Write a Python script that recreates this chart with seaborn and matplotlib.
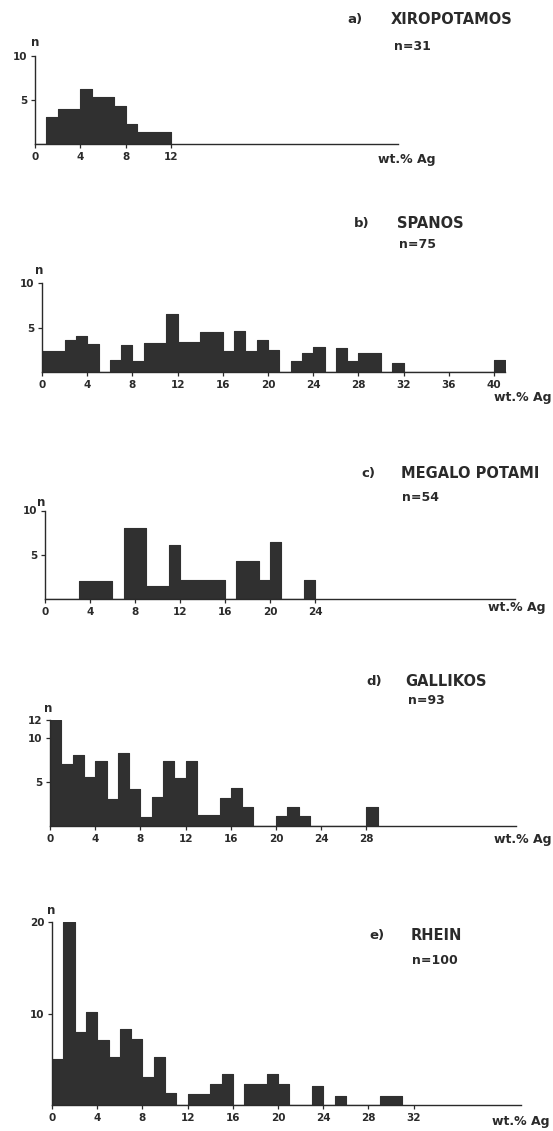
import matplotlib
matplotlib.use("Agg")
import matplotlib.pyplot as plt
import numpy as np
import pandas as pd
import seaborn as sns

# ── Dados (contagens por classe de 1 wt.% Ag, a partir de 0) ──────────────
xiropotamos = [0, 3.1, 4.0, 4.0, 6.3, 5.3, 5.3, 4.3, 2.3, 1.4, 1.4, 1.4]
spanos = [2.4, 2.4, 3.6, 4.1, 3.2, 0, 1.3, 3.1, 1.2, 3.3, 3.3, 6.5, 3.4, 3.4,
          4.5, 4.5, 2.4, 4.6, 2.4, 3.6, 2.5, 0, 1.2, 2.2, 2.8, 0, 2.7, 1.2,
          2.2, 2.2, 0, 1.0, 0, 0, 0, 0, 0, 0, 0, 0, 1.3]
megalo_potami = [0, 0, 0, 2.0, 2.0, 2.0, 0, 8.0, 8.0, 1.5, 1.5, 6.1, 2.2, 2.2,
                 2.2, 2.2, 0, 4.3, 4.3, 2.2, 6.4, 0, 0, 2.1]
gallikos = [12.0, 7.0, 8.0, 5.5, 7.3, 3.1, 8.3, 4.2, 1.0, 3.3, 7.4, 5.4, 7.4,
            1.2, 1.2, 3.2, 4.3, 2.2, 0, 0, 1.1, 2.2, 1.1, 0, 0, 0, 0, 0, 2.1]
rhein = [5.0, 20.0, 8.0, 10.2, 7.1, 5.2, 8.3, 7.2, 3.1, 5.2, 1.3, 0, 1.2, 1.2,
         2.3, 3.4, 0, 2.3, 2.3, 3.4, 2.3, 0, 0, 2.1, 0, 1.0, 0, 0, 0, 1.0, 1.0]

letras = ["a)", "b)", "c)", "d)", "e)"]
nomes = ["XIROPOTAMOS", "SPANOS", "MEGALO POTAMI", "GALLIKOS", "RHEIN"]
n_amostras = ["n=31", "n=75", "n=54", "n=93", "n=100"]
y_ticks = [[5, 10], [5, 10], [5, 10], [5, 10, 12], [10, 20]]
x_ticks = [range(0, 13, 4), range(0, 41, 4), range(0, 25, 4),
           range(0, 29, 4), range(0, 33, 4)]

W, H = 553, 1131
BAR = "#303030"
INK = "#2a2a2a"

sns.set_style("ticks")
plt.rcParams["font.family"] = ["DejaVu Sans"]
plt.rcParams["axes.edgecolor"] = INK

fig = plt.figure(figsize=(W / 100, H / 100), dpi=100)


def fx(x):
    return x / W


def fy(y):
    return 1 - y / H


# geometria em pixels: origem x, linha de base, px por unidade x/y, fim do eixo x, topo y
geom = [
    dict(x0=35, base=144, ux=11.35, uy=8.8, xmax=32.0, ymax=10),
    dict(x0=42, base=372, ux=11.3, uy=8.85, xmax=41.0, ymax=10),
    dict(x0=45, base=599, ux=11.25, uy=8.85, xmax=41.8, ymax=10),
    dict(x0=50, base=826, ux=11.3, uy=8.85, xmax=41.2, ymax=12),
    dict(x0=52, base=1105, ux=11.3, uy=9.15, xmax=41.5, ymax=20),
]
# posições dos textos (px): letra, nome, n, rótulo "n", rótulo do eixo x
textos = [
    dict(lx=347, nmx=391, ty=20, nx=394, ny=47, yl=(31, 42), xl=(436, 159)),
    dict(lx=354, nmx=397, ty=224, nx=399, ny=244, yl=(35, 271), xl=(551, 397)),
    dict(lx=361, nmx=401, ty=473, nx=402, ny=497, yl=(37, 502), xl=(546, 608)),
    dict(lx=366, nmx=405, ty=681, nx=408, ny=701, yl=(44, 708), xl=(551, 840)),
    dict(lx=369, nmx=411, ty=936, nx=412, ny=960, yl=(47, 910), xl=(550, 1121)),
]

series = [xiropotamos, spanos, megalo_potami, gallikos, rhein]

for i, counts in enumerate(series):
    g = geom[i]
    rect = [fx(g["x0"]), fy(g["base"]), g["xmax"] * g["ux"] / W,
            g["ymax"] * g["uy"] / H]
    ax = fig.add_axes(rect)
    ax.patch.set_alpha(0)

    df = pd.DataFrame({"ag": np.arange(len(counts)) + 0.5, "n": counts})
    sns.histplot(data=df, x="ag", weights="n", binwidth=1,
                 binrange=(0, len(counts)), element="step", fill=True,
                 color=BAR, alpha=1, linewidth=0.8, ax=ax)

    ax.set_xlim(0, g["xmax"])
    ax.set_ylim(0, g["ymax"])
    ax.set_xticks(list(x_ticks[i]))
    ax.set_yticks(y_ticks[i])
    ax.set_xlabel("")
    ax.set_ylabel("")
    sns.despine(ax=ax)
    for sp in ("left", "bottom"):
        ax.spines[sp].set_linewidth(1.0)
    ax.tick_params(length=3, width=0.9, labelsize=7.5, pad=2.5, colors=INK)
    for lbl in ax.get_xticklabels() + ax.get_yticklabels():
        lbl.set_fontweight("bold")

    t = textos[i]
    fig.text(fx(t["lx"]), fy(t["ty"]), letras[i], fontsize=9.5,
             fontweight="bold", color=INK, va="center")
    fig.text(fx(t["nmx"]), fy(t["ty"]), nomes[i], fontsize=10.5,
             fontweight="bold", color=INK, va="center")
    fig.text(fx(t["nx"]), fy(t["ny"]), n_amostras[i], fontsize=9,
             fontweight="bold", color=INK, va="center")
    fig.text(fx(t["yl"][0]), fy(t["yl"][1]), "n", fontsize=8.5,
             fontweight="bold", color=INK, va="center")
    fig.text(fx(t["xl"][0]), fy(t["xl"][1]), "wt.% Ag", fontsize=9,
             fontweight="bold", color=INK, va="center", ha="right")

fig.savefig("out.png", dpi=100)
